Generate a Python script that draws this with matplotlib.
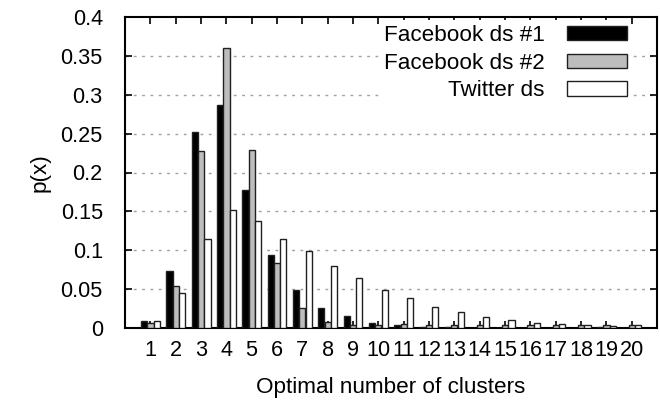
import numpy as np
import matplotlib.pyplot as plt

plt.rcParams['font.family'] = ['Liberation Sans', 'DejaVu Sans']

# optimal number of clusters (1..20)
clusters = list(range(1, 21))
tick_labels = [str(c) for c in clusters]

fb1 = [0.009, 0.0735, 0.252, 0.287, 0.177, 0.0935, 0.049, 0.026, 0.015, 0.007,
       0.0035, 0.001, 0.001, 0.0005, 0.0005, 0.0005, 0.0005, 0.0005, 0.001, 0.0005]
fb2 = [0.007, 0.0535, 0.228, 0.3595, 0.229, 0.084, 0.026, 0.008, 0.0035, 0.004,
       0.005, 0.004, 0.004, 0.004, 0.0045, 0.004, 0.004, 0.004, 0.004, 0.004]
tw = [0.009, 0.0455, 0.115, 0.152, 0.137, 0.115, 0.099, 0.080, 0.064, 0.049,
      0.038, 0.027, 0.020, 0.014, 0.010, 0.0065, 0.005, 0.0035, 0.002, 0.0035]

labels = ['Facebook ds #1', 'Facebook ds #2', 'Twitter ds']
fills = ['black', '#bdbdbd', 'white']

fig = plt.figure(figsize=(6.6, 4.08), dpi=100)
ax = fig.add_axes([125 / 660, 1 - 328 / 408, (657 - 125) / 660, (328 - 17) / 408])

x = np.array(clusters)
w = 0.25
for i, (vals, fc, lab) in enumerate(zip([fb1, fb2, tw], fills, labels)):
    ax.bar(x + (i - 1) * w, vals, width=w, color=fc, edgecolor='#202020',
           linewidth=1.0, label=lab, zorder=3)

ax.set_xlim(0, 21)
ax.set_ylim(0, 0.4)
ax.set_xticks(x)
ax.set_xticklabels(tick_labels)
yt = [0, 0.05, 0.1, 0.15, 0.2, 0.25, 0.3, 0.35, 0.4]
ax.set_yticks(yt)
ax.set_yticklabels(['0', '0.05', '0.1', '0.15', '0.2', '0.25', '0.3', '0.35', '0.4'])

for y in yt[1:-1]:
    ax.axhline(y, color='#a0a0a0', linewidth=1.0, linestyle=(0, (2, 4)), zorder=1)

ax.tick_params(axis='both', direction='in', length=5, width=1.2, top=True, right=True,
               labelsize=15.6, colors='black')
ax.tick_params(axis='x', pad=9)
ax.tick_params(axis='y', pad=16)
for s in ax.spines.values():
    s.set_linewidth(1.5)

ax.set_xlabel('Optimal number of clusters', fontsize=16.2, labelpad=11)
ax.set_ylabel('p(x)', fontsize=16.2, labelpad=7)

leg = ax.legend(loc='upper right', bbox_to_anchor=(0.958, 1.0), markerfirst=False,
                frameon=True, fancybox=False, edgecolor='none', facecolor='white',
                framealpha=1.0, fontsize=16.2, handlelength=2.65, handleheight=0.59,
                handletextpad=1.0, labelspacing=0.3, borderpad=0.2, borderaxespad=0.15)
leg.set_zorder(5)

fig.savefig('out.png', dpi=100)
